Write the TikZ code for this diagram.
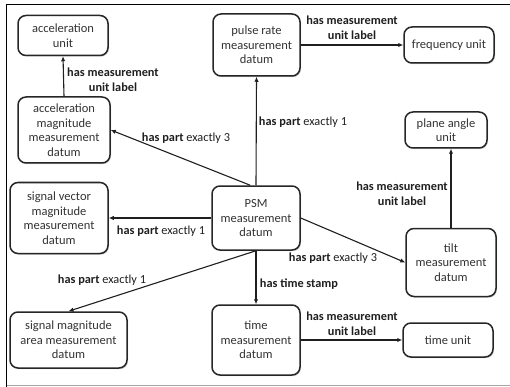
\documentclass[tikz,border=0pt]{standalone}
\usepackage{fontspec}
\setmainfont{Carlito}
\usetikzlibrary{arrows.meta,shadows}
\begin{document}
\begin{tikzpicture}[x=1pt,y=-1pt,
  box/.style={draw=black!85, line width=1.5pt, rounded corners=8pt, fill=white,
    align=center, inner sep=0pt, text=black!80,
    font=\fontsize{12.5}{14.5}\selectfont,
    drop shadow={opacity=0.35, shadow xshift=1pt, shadow yshift=-1.2pt}},
  lbl/.style={align=center, inner sep=0pt, text=black!88,
    font=\fontsize{12.3}{15}\selectfont},
  link/.style={draw=black!88, line width=1.1pt, -{Latex[length=5pt,width=4.5pt]}}]
\useasboundingbox (0,0) rectangle (510,387);
% frame
\draw[line width=0.9pt, black] (6.5,387) -- (6.5,4) -- (510,4);
\draw[line width=0.8pt, black!35] (6.5,385) -- (510,385);
% nodes
\node[box, minimum width=90pt, minimum height=40pt] (accunit) at (63,35.5) {acceleration\\unit};
\node[box, minimum width=92pt, minimum height=66pt] (accmag) at (64,130) {acceleration\\magnitude\\measurement\\datum};
\node[box, minimum width=87pt, minimum height=62pt] (pulse) at (256.5,45) {pulse rate\\measurement\\datum};
\node[box, minimum width=90pt, minimum height=36pt] (freq) at (449,45) {frequency unit};
\node[box, minimum width=82pt, minimum height=36pt] (plane) at (446,130) {plane angle\\unit};
\node[box, minimum width=98pt, minimum height=71pt] (sigvec) at (59,218) {signal vector\\magnitude\\measurement\\datum};
\node[box, minimum width=88pt, minimum height=64pt] (psm) at (256,218) {PSM\\measurement\\datum};
\node[box, minimum width=90pt, minimum height=68pt] (tilt) at (451,262.5) {tilt\\measurement\\datum};
\node[box, minimum width=117pt, minimum height=56pt] (sma) at (68.5,340) {signal magnitude\\area measurement\\datum};
\node[box, minimum width=88pt, minimum height=70pt] (time) at (256,340) {time\\measurement\\datum};
\node[box, minimum width=90pt, minimum height=34pt] (timeunit) at (448,340) {time unit};
% connectors
\draw[link] (accmag.north) -- (accunit.south);
\draw[link] (psm.north) -- (pulse.south);
\draw[link] (pulse.east) -- (freq.west);
\draw[link] (psm.100) -- (accmag.east);
\draw[link] (psm.west) -- (sigvec.east);
\draw[link] (psm.south) -- (sma.north);
\draw[link] (psm.east) -- (tilt.west);
\draw[link] (psm.south) -- (time.north);
\draw[link] (time.east) -- (timeunit.west);
\draw[link] (tilt.north) -- (tilt.north |- plane.south);
% labels
\node[lbl] (l1) at (113,80) {\textbf{has measurement}\\\textbf{unit label}};
\node[lbl] (l2) at (352,28) {\textbf{has measurement}\\\textbf{unit label}};
\node[lbl] (l3) at (303,122) {\textbf{has part} exactly 1};
\node[lbl] (l4) at (186,138) {\textbf{has part} exactly 3};
\node[lbl] (l5) at (161,231) {\textbf{has part} exactly 1};
\node[lbl] (l6) at (102,280) {\textbf{has part} exactly 1};
\node[lbl] (l7) at (333,258) {\textbf{has part} exactly 3};
\node[lbl] (l8) at (299,284) {\textbf{has time stamp}};
\node[lbl] (l9) at (402,194) {\textbf{has measurement}\\\textbf{unit label}};
\node[lbl] (l10) at (352,323.5) {\textbf{has measurement}\\\textbf{unit label}};
\end{tikzpicture}
\end{document}
